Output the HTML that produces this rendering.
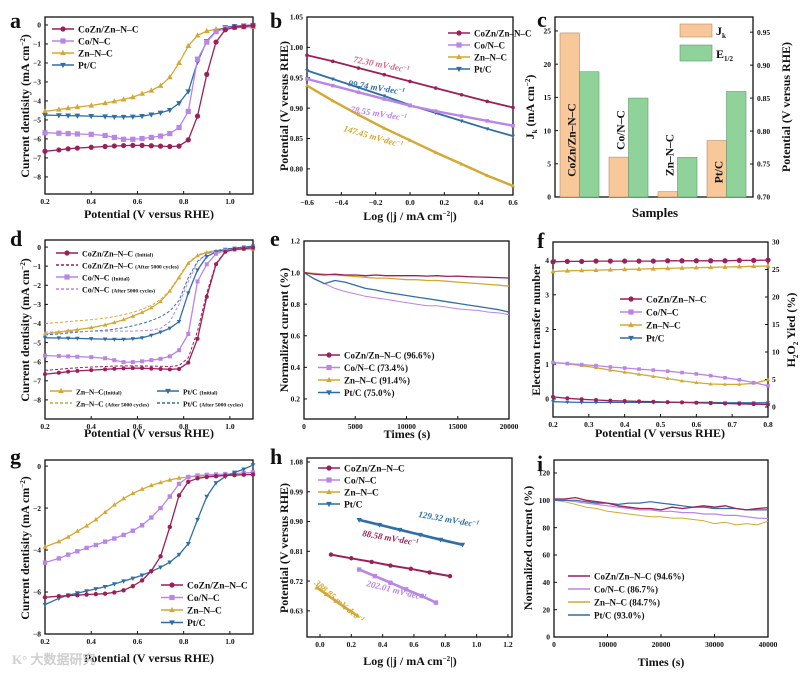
<!DOCTYPE html>
<html><head><meta charset="utf-8">
<style>
html,body{margin:0;padding:0;background:#fff;}
svg{display:block;font-family:"Liberation Serif",serif;font-weight:bold;}
</style></head>
<body>
<svg id="fig" width="800" height="673" viewBox="0 0 800 673" xmlns="http://www.w3.org/2000/svg"></svg>
<script>
// ---------- DATA ----------
const aX=[0.2,0.26,0.3,0.34,0.4,0.46,0.5,0.54,0.58,0.62,0.66,0.7,0.74,0.78,0.82,0.86,0.9,0.94,0.98,1.02,1.06,1.1];
const aCoZn=[-6.65,-6.58,-6.52,-6.48,-6.44,-6.4,-6.37,-6.35,-6.34,-6.34,-6.36,-6.38,-6.4,-6.38,-6.05,-4.8,-2.6,-0.9,-0.25,-0.12,-0.08,-0.03];
const aCo=[-5.68,-5.7,-5.72,-5.74,-5.76,-5.82,-5.92,-6.02,-6.02,-5.98,-5.92,-5.85,-5.72,-5.4,-4.55,-1.8,-0.9,-0.35,-0.18,-0.12,-0.08,-0.05];
const aZn=[-4.55,-4.45,-4.38,-4.32,-4.24,-4.12,-4.02,-3.92,-3.8,-3.62,-3.45,-3.2,-2.75,-2.0,-1.1,-0.55,-0.32,-0.22,-0.18,-0.15,-0.12,-0.1];
const aPt=[-4.75,-4.76,-4.77,-4.78,-4.8,-4.82,-4.84,-4.84,-4.83,-4.8,-4.72,-4.62,-4.48,-4.12,-3.5,-1.95,-0.85,-0.32,-0.12,-0.06,-0.03,0];

const bX=[-0.6,-0.45,-0.3,-0.15,0,0.15,0.3,0.45,0.6];
const bCoZn=[0.987,0.977,0.966,0.955,0.944,0.933,0.922,0.911,0.901];
const bCo=[0.948,0.937,0.926,0.915,0.904,0.895,0.887,0.879,0.871];
const bZn=[0.937,0.912,0.889,0.867,0.847,0.827,0.808,0.789,0.772];
const bPt=[0.962,0.948,0.934,0.92,0.905,0.892,0.879,0.866,0.854];

const cSamples=["CoZn/Zn–N–C","Co/N–C","Zn–N–C","Pt/C"];
const cJk=[24.7,6.0,0.8,8.5];
const cE12=[0.89,0.85,0.76,0.86];

const dX=aX;
const dCoZnI=aCoZn;
const dCoZnA=[-6.45,-6.4,-6.35,-6.32,-6.28,-6.25,-6.23,-6.22,-6.22,-6.22,-6.23,-6.24,-6.25,-6.2,-5.8,-4.4,-2.4,-0.85,-0.25,-0.12,-0.08,-0.05];
const dCoI=aCo;
const dCoA=[-4.45,-4.44,-4.43,-4.42,-4.41,-4.4,-4.4,-4.4,-4.4,-4.38,-4.35,-4.25,-3.9,-3.0,-1.8,-0.8,-0.35,-0.2,-0.12,-0.08,-0.06,-0.05];
const dZnI=[-4.55,-4.45,-4.38,-4.32,-4.22,-4.08,-3.95,-3.8,-3.62,-3.42,-3.18,-2.85,-2.3,-1.6,-0.85,-0.45,-0.28,-0.2,-0.16,-0.14,-0.12,-0.1];
const dZnA=[-4.0,-3.95,-3.9,-3.86,-3.8,-3.72,-3.64,-3.54,-3.42,-3.26,-3.05,-2.75,-2.25,-1.55,-0.8,-0.42,-0.25,-0.18,-0.15,-0.13,-0.12,-0.1];
const dPtI=[-4.75,-4.76,-4.77,-4.78,-4.8,-4.82,-4.83,-4.83,-4.8,-4.75,-4.62,-4.45,-4.25,-3.9,-2.4,-1.2,-0.5,-0.25,-0.12,-0.06,0,0.05];
const dPtA=[-4.6,-4.55,-4.5,-4.45,-4.4,-4.35,-4.3,-4.22,-4.12,-4.0,-3.85,-3.65,-3.35,-2.8,-1.6,-0.75,-0.35,-0.18,-0.1,-0.05,0,0.03];

const eX=[0,1000,2000,3000,4000,5000,6000,7000,8000,9000,10000,11000,12000,13000,14000,15000,16000,17000,18000,19000,20000];
const eCoZn=[1.0,0.99,0.985,0.99,0.985,0.985,0.98,0.985,0.98,0.98,0.98,0.98,0.978,0.98,0.976,0.978,0.974,0.972,0.97,0.968,0.966];
const eCo=[1.0,0.96,0.93,0.9,0.88,0.865,0.85,0.84,0.83,0.82,0.81,0.8,0.79,0.79,0.78,0.77,0.765,0.76,0.75,0.745,0.734];
const eZn=[1.0,0.995,0.99,0.985,0.98,0.975,0.97,0.965,0.965,0.96,0.955,0.955,0.95,0.95,0.945,0.94,0.935,0.93,0.925,0.92,0.914];
const ePt=[1.0,0.96,0.93,0.95,0.94,0.92,0.9,0.89,0.875,0.865,0.855,0.845,0.835,0.825,0.815,0.805,0.795,0.785,0.775,0.765,0.75];

const fX=[0.2,0.24,0.28,0.32,0.36,0.4,0.44,0.48,0.52,0.56,0.6,0.64,0.68,0.72,0.76,0.8];
const fCoZnN=[3.95,3.96,3.96,3.97,3.97,3.97,3.97,3.97,3.98,3.98,3.98,3.98,3.98,3.99,3.99,4.0];
const fZnN=[3.67,3.69,3.7,3.71,3.72,3.73,3.74,3.75,3.76,3.77,3.78,3.79,3.8,3.81,3.82,3.83];
const fCoH=[1.05,1.02,0.99,0.96,0.92,0.89,0.86,0.83,0.8,0.76,0.72,0.67,0.61,0.55,0.47,0.38];
const fZnH=[1.05,1.01,0.96,0.9,0.83,0.77,0.71,0.65,0.59,0.52,0.47,0.43,0.42,0.42,0.45,0.55];
const fCoZnH=[0.06,0.02,-0.01,-0.03,-0.05,-0.06,-0.07,-0.08,-0.09,-0.1,-0.11,-0.12,-0.13,-0.14,-0.15,-0.16];
const fPtH=[-0.08,-0.09,-0.1,-0.1,-0.1,-0.1,-0.1,-0.1,-0.1,-0.1,-0.1,-0.1,-0.11,-0.11,-0.11,-0.11];

const gX=[0.2,0.26,0.3,0.34,0.38,0.42,0.46,0.5,0.54,0.58,0.62,0.66,0.7,0.74,0.78,0.82,0.86,0.9,0.94,0.98,1.02,1.06,1.1];
const gCoZn=[-6.25,-6.2,-6.17,-6.15,-6.12,-6.1,-6.08,-6.02,-5.92,-5.72,-5.45,-5.0,-4.3,-2.9,-1.4,-0.75,-0.58,-0.52,-0.48,-0.45,-0.43,-0.41,-0.4];
const gCo=[-4.6,-4.4,-4.22,-4.06,-3.9,-3.76,-3.6,-3.45,-3.28,-3.08,-2.82,-2.45,-2.0,-1.45,-0.85,-0.52,-0.45,-0.42,-0.4,-0.38,-0.36,-0.33,-0.3];
const gZn=[-3.85,-3.6,-3.38,-3.1,-2.85,-2.55,-2.2,-1.85,-1.55,-1.3,-1.1,-0.92,-0.78,-0.66,-0.57,-0.52,-0.48,-0.46,-0.44,-0.43,-0.42,-0.41,-0.4];
const gPt=[-6.6,-6.3,-6.15,-6.05,-5.95,-5.85,-5.75,-5.62,-5.48,-5.35,-5.2,-5.02,-4.82,-4.58,-4.22,-3.7,-2.55,-1.45,-0.8,-0.5,-0.3,-0.15,0.05];

const hCoZnX=[0.07,0.2,0.33,0.45,0.58,0.7,0.83];
const hCoZn=[0.8,0.789,0.778,0.767,0.757,0.746,0.735];
const hCoX=[0.25,0.35,0.45,0.55,0.65,0.74];
const hCo=[0.755,0.735,0.715,0.695,0.675,0.655];
const hZnX=[-0.02,0.04,0.1,0.16,0.24];
const hZn=[0.70,0.68,0.66,0.64,0.615];
const hPtX=[0.25,0.38,0.51,0.64,0.77,0.91];
const hPt=[0.905,0.89,0.875,0.86,0.845,0.83];

const iX=[0,2000,4000,6000,8000,10000,12000,14000,16000,18000,20000,22000,24000,26000,28000,30000,32000,34000,36000,38000,40000];
const iCoZn=[101,101,102,100,99,98,96,95,94,94,93,95,94,95,96,95,96,94,93,94,94.6];
const iCo=[100,100,99,98,97,96,95,94,93,93,92,92,91,91,90,90,89,89,88,87,86.7];
const iZn=[100,99,97,95,94,92,91,90,89,88,88,87,87,86,85,83,84,82,83,82,84.7];
const iPt=[100,100,100,99,98,98,97,98,98,99,98,97,96,95,95,94,94,94,93,93,93.0];

// ---------- COLORS ----------
const C_COZN="#9c1f5a", C_CO="#b985e6", C_ZN="#d4a832", C_PT="#2f6ea6";

// ---------- HELPERS ----------
const svg=document.getElementById('fig');
const NS="http://www.w3.org/2000/svg";
function mk(tag,attrs,name){
  const el=document.createElementNS(NS,tag);
  for(const k in attrs) el.setAttribute(k,attrs[k]);
  
  
  svg.appendChild(el);
  return el;
}
function txt(x,y,s,size,name,opts){
  opts=opts||{};
  const t=mk('text',{x:x,y:y,'font-size':size,'text-anchor':opts.anchor||'start',fill:opts.fill||'#111'},name);
  if(opts.rot!==undefined) t.setAttribute('transform','rotate('+opts.rot+' '+x+' '+y+')');
  if(opts.style) t.setAttribute('font-style',opts.style);
  t.innerHTML=s;
  return t;
}
function panel(px0,px1,py0,py1,xmin,xmax,ymin,ymax){
  return {px0,px1,py0,py1,
    sx:v=>px0+(v-xmin)/(xmax-xmin)*(px1-px0),
    sy:v=>py1-(v-ymin)/(ymax-ymin)*(py1-py0)};
}
function frame(P,name){
  mk('rect',{x:P.px0,y:P.py0,width:P.px1-P.px0,height:P.py1-P.py0,fill:'none',stroke:'#111','stroke-width':1.3},name);
}
function xticks(P,vals,labels,name){
  vals.forEach((v,i)=>{
    const x=P.sx(v);
    mk('line',{x1:x,y1:P.py1,x2:x,y2:P.py1-3,stroke:'#111','stroke-width':1},name+'-tick');
    txt(x,P.py1+10,labels[i],7.5,name+'-label',{anchor:'middle'});
  });
}
function yticks(P,vals,labels,name,right,sy){
  sy=sy||P.sy;
  vals.forEach((v,i)=>{
    const y=sy(v);
    const x=right?P.px1:P.px0;
    mk('line',{x1:x,y1:y,x2:right?x-3:x+3,y2:y,stroke:'#111','stroke-width':1},name+'-tick');
    txt(right?x+4:x-4,y+2.7,labels[i],7.5,name+'-label',{anchor:right?'start':'end'});
  });
}
function marker(type,x,y,color,r,name){
  r=r||2.6;
  if(type==='o') return mk('circle',{cx:x,cy:y,r:r,fill:color},name);
  if(type==='s') return mk('rect',{x:x-r,y:y-r,width:2*r,height:2*r,fill:color},name);
  if(type==='^') return mk('polygon',{points:`${x},${y-r*1.2} ${x-r*1.1},${y+r*0.8} ${x+r*1.1},${y+r*0.8}`,fill:color},name);
  if(type==='v') return mk('polygon',{points:`${x},${y+r*1.2} ${x-r*1.1},${y-r*0.8} ${x+r*1.1},${y-r*0.8}`,fill:color},name);
}
function series(P,xs,ys,color,mtype,name,opts){
  opts=opts||{};
  const pts=xs.map((x,i)=>P.sx(x).toFixed(1)+','+P.sy(ys[i]).toFixed(1)).join(' ');
  const l=mk('polyline',{points:pts,fill:'none',stroke:color,'stroke-width':opts.w||1.3,'stroke-linejoin':'round'},name+'-line');
  if(opts.dash) l.setAttribute('stroke-dasharray',opts.dash);
  if(mtype) xs.forEach((x,i)=>marker(mtype,P.sx(x),P.sy(ys[i]),color,opts.r,name+'-marker'));
}
function legend(x,y,dy,items,size,name){
  items.forEach((it,i)=>{
    const yy=y+i*dy;
    const l=mk('line',{x1:x,y1:yy,x2:x+22,y2:yy,stroke:it[1],'stroke-width':1.4},name+'-entry-line');
    if(it[3]) l.setAttribute('stroke-dasharray',it[3]);
    if(it[2]) marker(it[2],x+11,yy,it[1],2.6,name+'-entry-marker');
    txt(x+26,yy+3.3,it[0],size,name+'-entry-text');
  });
}
const SUPm2='<tspan dy="-4" font-size="7">−2</tspan><tspan dy="4">)</tspan>';
const LET=22, TT=12;

// ---------- PANEL A ----------
const A=panel(45,253,17,194,0.2,1.1,-8.9,0.42);
frame(A,'panel-a-frame');
xticks(A,[0.2,0.4,0.6,0.8,1.0],['0.2','0.4','0.6','0.8','1.0'],'a-x-tick');
yticks(A,[0,-1,-2,-3,-4,-5,-6,-7,-8],['0','−1','−2','−3','−4','−5','−6','−7','−8'],'a-y-tick');
series(A,aX,aZn,C_ZN,'^','a-zn');
series(A,aX,aPt,C_PT,'v','a-pt');
series(A,aX,aCo,C_CO,'s','a-co');
series(A,aX,aCoZn,C_COZN,'o','a-cozn');
legend(52,29,12,[['CoZn/Zn–N–C',C_COZN,'o'],['Co/N–C',C_CO,'s'],['Zn–N–C',C_ZN,'^'],['Pt/C',C_PT,'v']],9.5,'a-legend');
txt(10,28,'a',LET,'panel-a-letter');
txt(149,218,'Potential (V versus RHE)',TT,'a-x-axis-title',{anchor:'middle'});
txt(29,106,'Current dentisity (mA cm'+SUPm2,TT,'a-y-axis-title',{anchor:'middle',rot:-90});

// ---------- PANEL B ----------
const B=panel(307,513,17,195,-0.6,0.6,0.757,1.05);
frame(B,'panel-b-frame');
xticks(B,[-0.6,-0.4,-0.2,0,0.2,0.4,0.6],['−0.6','−0.4','−0.2','0.0','0.2','0.4','0.6'],'b-x-tick');
yticks(B,[0.8,0.85,0.9,0.95,1.0,1.05],['0.80','0.85','0.90','0.95','1.00','1.05'],'b-y-tick');
series(B,bX,bZn,C_ZN,'^','b-zn',{r:1.8,w:2.4});
series(B,bX,bPt,C_PT,'v','b-pt',{r:1.8,w:1.8});
series(B,bX,bCo,C_CO,'s','b-co',{r:1.8,w:2.4});
series(B,bX,bCoZn,C_COZN,'o','b-cozn',{r:1.8,w:1.8});
legend(448,33,12,[['CoZn/Zn–N–C',C_COZN,'o'],['Co/N–C',C_CO,'s'],['Zn–N–C',C_ZN,'^'],['Pt/C',C_PT,'v']],9,'b-legend');
txt(353,62,'72.30 mV·dec<tspan dy="-3" font-size="6">−1</tspan>',9,'b-annot-cozn',{rot:11,fill:'#d06a8a',style:'italic'});
txt(348,86,'99.74 mV·dec<tspan dy="-3" font-size="6">−1</tspan>',9,'b-annot-pt',{rot:9,fill:'#2f6ea6',style:'italic'});
txt(350,112,'78.55 mV·dec<tspan dy="-3" font-size="6">−1</tspan>',9,'b-annot-co',{rot:9,fill:'#b985e6',style:'italic'});
txt(343,131,'147.45 mV·dec<tspan dy="-3" font-size="6">−1</tspan>',9,'b-annot-zn',{rot:16,fill:'#d4a832',style:'italic'});
txt(270,28,'b',LET,'panel-b-letter');
txt(410,220,'Log (|j / mA cm'+'<tspan dy="-4" font-size="7">−2</tspan><tspan dy="4">|)</tspan>',TT,'b-x-axis-title',{anchor:'middle'});
txt(288,106,'Potential (V versus RHE)',TT,'b-y-axis-title',{anchor:'middle',rot:-90});

// ---------- PANEL C ----------
const CP=panel(555,753,17,197,0,1,0,27.1);
const syR=v=>197-(v-0.70)/(0.973-0.70)*(197-17);
frame(CP,'panel-c-frame');
yticks(CP,[0,5,10,15,20,25],['0','5','10','15','20','25'],'c-y-left-tick');
yticks(CP,[0.70,0.75,0.80,0.85,0.90,0.95],['0.70','0.75','0.80','0.85','0.90','0.95'],'c-y-right-tick',true,syR);
cSamples.forEach((s,i)=>{
  const gx=560+i*49;
  const yj=CP.sy(cJk[i]);
  mk('rect',{x:gx,y:yj,width:19.5,height:197-yj,fill:'#f8c79a',stroke:'#b88a60','stroke-width':0.6},'c-bar-jk-'+i);
  const ye=syR(cE12[i]);
  mk('rect',{x:gx+19.5,y:ye,width:19.5,height:197-ye,fill:'#8fd39b',stroke:'#5f9a68','stroke-width':0.6},'c-bar-e12-'+i);
});
const cLabY=[140,130,155,172];
cSamples.forEach((s,i)=>{
  txt(566+i*49+9.5,cLabY[i],s,11.5,'c-sample-label',{anchor:'middle',rot:-90});
});
mk('rect',{x:680,y:24,width:32,height:13,fill:'#f8c79a',stroke:'#b88a60','stroke-width':0.6},'c-legend-jk-swatch');
mk('rect',{x:680,y:45,width:32,height:16,fill:'#8fd39b',stroke:'#5f9a68','stroke-width':0.6},'c-legend-e12-swatch');
txt(716,35,'J<tspan dy="3" font-size="7">k</tspan>',12,'c-legend-jk-text');
txt(716,58,'E<tspan dy="3" font-size="7">1/2</tspan>',12,'c-legend-e12-text');
txt(537,27,'c',LET,'panel-c-letter');
txt(655,217,'Samples',13,'c-x-axis-title',{anchor:'middle'});
txt(534,107,'J<tspan dy="3" font-size="7">k</tspan><tspan dy="-3"> (mA cm</tspan>'+SUPm2,TT,'c-y-left-title',{anchor:'middle',rot:-90});
txt(790,107,'Potential (V  versus RHE)',TT,'c-y-right-title',{anchor:'middle',rot:-90});

// ---------- PANEL D ----------
const D=panel(45,253,240,419,0.2,1.1,-9.0,0.37);
frame(D,'panel-d-frame');
xticks(D,[0.2,0.4,0.6,0.8,1.0],['0.2','0.4','0.6','0.8','1.0'],'d-x-tick');
yticks(D,[0,-1,-2,-3,-4,-5,-6,-7,-8],['0','−1','−2','−3','−4','−5','−6','−7','−8'],'d-y-tick');
series(D,dX,dZnA,C_ZN,null,'d-zn-after',{dash:'3,2',w:1});
series(D,dX,dPtA,C_PT,null,'d-pt-after',{dash:'3,2',w:1});
series(D,dX,dCoA,C_CO,null,'d-co-after',{dash:'3,2',w:1});
series(D,dX,dCoZnA,C_COZN,null,'d-cozn-after',{dash:'3,2',w:1});
series(D,dX,dZnI,C_ZN,'^','d-zn-initial',{r:2});
series(D,dX,dPtI,C_PT,'v','d-pt-initial',{r:2});
series(D,dX,dCoI,C_CO,'s','d-co-initial',{r:2});
series(D,dX,dCoZnI,C_COZN,'o','d-cozn-initial',{r:2});
legend(56,253,12,[['CoZn/Zn–N–C <tspan font-size="5.5">(Initial)</tspan>',C_COZN,'o'],['CoZn/Zn–N–C <tspan font-size="5.5">(After 5000 cycles)</tspan>',C_COZN,null,'3,2'],['Co/N–C <tspan font-size="5.5">(Initial)</tspan>',C_CO,'s'],['Co/N–C <tspan font-size="5.5">(After 5000 cycles)</tspan>',C_CO,null,'3,2']],8,'d-legend-top');
legend(50,391,12,[['Zn–N–C<tspan font-size="5.5">(Initial)</tspan>',C_ZN,'^'],['Zn–N–C <tspan font-size="5.5">(After 5000 cycles)</tspan>',C_ZN,null,'3,2']],7.5,'d-legend-bottom-left');
legend(157,391,12,[['Pt/C <tspan font-size="5.5">(Initial)</tspan>',C_PT,'v'],['Pt/C <tspan font-size="5.5">(After 5000 cycles)</tspan>',C_PT,null,'3,2']],7.5,'d-legend-bottom-right');
txt(10,246,'d',LET,'panel-d-letter');
txt(149,437,'Potential (V versus RHE)',TT,'d-x-axis-title',{anchor:'middle'});
txt(29,330,'Current dentisity (mA cm'+SUPm2,TT,'d-y-axis-title',{anchor:'middle',rot:-90});

// ---------- PANEL E ----------
const E=panel(304,509,241,419,0,20000,0.073,1.2);
frame(E,'panel-e-frame');
xticks(E,[0,5000,10000,15000,20000],['0','5000','10000','15000','20000'],'e-x-tick');
yticks(E,[0.2,0.4,0.6,0.8,1.0,1.2],['0.2','0.4','0.6','0.8','1.0','1.2'],'e-y-tick');
series(E,eX,eCo,C_CO,null,'e-co',{w:1});
series(E,eX,ePt,C_PT,null,'e-pt',{w:1.3});
series(E,eX,eZn,C_ZN,null,'e-zn',{w:1.3});
series(E,eX,eCoZn,C_COZN,null,'e-cozn',{w:1.3});
legend(318,355,12.5,[['CoZn/Zn–N–C (96.6%)',C_COZN,'o'],['Co/N–C (73.4%)',C_CO,'s'],['Zn–N–C (91.4%)',C_ZN,'^'],['Pt/C (75.0%)',C_PT,'v']],9,'e-legend');
txt(270,246,'e',LET,'panel-e-letter');
txt(407,438,'Times (s)',TT,'e-x-axis-title',{anchor:'middle'});
txt(288,330,'Normalized current (%)',TT,'e-y-axis-title',{anchor:'middle',rot:-90});

// ---------- PANEL F ----------
const F=panel(553,768,242,417,0.2,0.8,-0.52,4.52);
const syF=v=>407-v/30*(407-242);
frame(F,'panel-f-frame');
xticks(F,[0.2,0.3,0.4,0.5,0.6,0.7,0.8],['0.2','0.3','0.4','0.5','0.6','0.7','0.8'],'f-x-tick');
yticks(F,[0,1,2,3,4],['0','1','2','3','4'],'f-y-left-tick');
yticks(F,[0,5,10,15,20,25,30],['0','5','10','15','20','25','30'],'f-y-right-tick',true,syF);
series(F,fX,fZnN,C_ZN,'^','f-zn-n',{r:2.3});
series(F,fX,fCoZnN,C_COZN,'o','f-cozn-n',{r:2.6});
series(F,fX,fZnH,C_ZN,'^','f-zn-h2o2',{r:1.8});
series(F,fX,fCoH,C_CO,'s','f-co-h2o2',{r:1.8});
series(F,fX,fPtH,C_PT,'v','f-pt-h2o2',{r:1.8});
series(F,fX,fCoZnH,C_COZN,'o','f-cozn-h2o2',{r:2});
legend(620,299,13,[['CoZn/Zn–N–C',C_COZN,'o'],['Co/N–C',C_CO,'s'],['Zn–N–C',C_ZN,'^'],['Pt/C',C_PT,'v']],9.5,'f-legend');
txt(537,248,'f',LET,'panel-f-letter');
txt(660,437,'Potential (V versus RHE)',TT,'f-x-axis-title',{anchor:'middle'});
txt(540,330,'Electron transfer number',TT,'f-y-left-title',{anchor:'middle',rot:-90});
txt(795,330,'H<tspan dy="3" font-size="7">2</tspan><tspan dy="-3">O</tspan><tspan dy="3" font-size="7">2</tspan><tspan dy="-3"> Yied (%)</tspan>',TT,'f-y-right-title',{anchor:'middle',rot:-90});

// ---------- PANEL G ----------
const G=panel(45,253,460,634,0.2,1.1,-8,0.29);
frame(G,'panel-g-frame');
xticks(G,[0.2,0.4,0.6,0.8,1.0],['0.2','0.4','0.6','0.8','1.0'],'g-x-tick');
yticks(G,[0,-2,-4,-6,-8],['0','−2','−4','−6','−8'],'g-y-tick');
series(G,gX,gZn,C_ZN,'^','g-zn',{r:2.2});
series(G,gX,gCo,C_CO,'s','g-co',{r:2.2});
series(G,gX,gPt,C_PT,'v','g-pt',{r:2.2});
series(G,gX,gCoZn,C_COZN,'o','g-cozn',{r:2.2});
legend(161,585,12.5,[['CoZn/Zn–N–C',C_COZN,'o'],['Co/N–C',C_CO,'s'],['Zn–N–C',C_ZN,'^'],['Pt/C',C_PT,'v']],9.5,'g-legend');
txt(10,464,'g',LET,'panel-g-letter');
txt(149,662,'Potential (V versus RHE)',TT,'g-x-axis-title',{anchor:'middle'});
txt(29,548,'Current dentisity (mA cm'+SUPm2,TT,'g-y-axis-title',{anchor:'middle',rot:-90});
txt(12,664,'K° 大数据研究',13,'watermark',{fill:'#cfcfcf'});

// ---------- PANEL H ----------
const H=panel(307,512,458,637,-0.083,1.226,0.551,1.092);
frame(H,'panel-h-frame');
xticks(H,[0,0.2,0.4,0.6,0.8,1.0,1.2],['0.0','0.2','0.4','0.6','0.8','1.0','1.2'],'h-x-tick');
yticks(H,[0.63,0.72,0.81,0.9,0.99,1.08],['0.63','0.72','0.81','0.90','0.99','1.08'],'h-y-tick');
series(H,hPtX,hPt,C_PT,'v','h-pt',{r:2.4,w:2.6});
series(H,hCoZnX,hCoZn,C_COZN,'o','h-cozn',{r:2.2,w:2});
series(H,hCoX,hCo,C_CO,'s','h-co',{r:2.2,w:2.6});
series(H,hZnX,hZn,C_ZN,'^','h-zn',{r:2.2,w:2.6});
legend(318,468,12,[['CoZn/Zn–N–C',C_COZN,'o'],['Co/N–C',C_CO,'s'],['Zn–N–C',C_ZN,'^'],['Pt/C',C_PT,'v']],9.5,'h-legend');
txt(418,517,'129.32 mV·dec<tspan dy="-3" font-size="6">−1</tspan>',9,'h-annot-pt',{rot:10,fill:'#2f6ea6',style:'italic'});
txt(362,536,'88.58 mV·dec<tspan dy="-3" font-size="6">−1</tspan>',9,'h-annot-cozn',{rot:10,fill:'#9c1f5a',style:'italic'});
txt(366,586,'202.01 mV·dec<tspan dy="-3" font-size="6">−1</tspan>',9,'h-annot-co',{rot:14,fill:'#b985e6',style:'italic'});
txt(314,584,'388.85 mV·dec<tspan dy="-3" font-size="6">−1</tspan>',9,'h-annot-zn',{rot:40,fill:'#d4a832',style:'italic'});
txt(270,464,'h',LET,'panel-h-letter');
txt(410,665,'Log (|j / mA cm'+'<tspan dy="-4" font-size="7">−2</tspan><tspan dy="4">|)</tspan>',TT,'h-x-axis-title',{anchor:'middle'});
txt(288,548,'Potential (V versus RHE)',TT,'h-y-axis-title',{anchor:'middle',rot:-90});

// ---------- PANEL I ----------
const I=panel(554,768,460,637,0,40000,0,129.5);
frame(I,'panel-i-frame');
xticks(I,[0,10000,20000,30000,40000],['0','10000','20000','30000','40000'],'i-x-tick');
yticks(I,[0,20,40,60,80,100,120],['0','20','40','60','80','100','120'],'i-y-tick');
series(I,iX,iZn,C_ZN,null,'i-zn',{w:1});
series(I,iX,iCo,C_CO,null,'i-co',{w:1.2});
series(I,iX,iPt,C_PT,null,'i-pt',{w:1.2});
series(I,iX,iCoZn,C_COZN,null,'i-cozn',{w:1.3});
legend(568,576,13,[['CoZn/Zn–N–C (94.6%)',C_COZN,null],['Co/N–C (86.7%)',C_CO,null],['Zn–N–C (84.7%)',C_ZN,null],['Pt/C (93.0%)',C_PT,null]],9,'i-legend');
txt(537,471,'i',LET,'panel-i-letter');
txt(661,666,'Times (s)',TT,'i-x-axis-title',{anchor:'middle'});
txt(532,548,'Normalized current (%)',TT,'i-y-axis-title',{anchor:'middle',rot:-90});
</script>
</body></html>
